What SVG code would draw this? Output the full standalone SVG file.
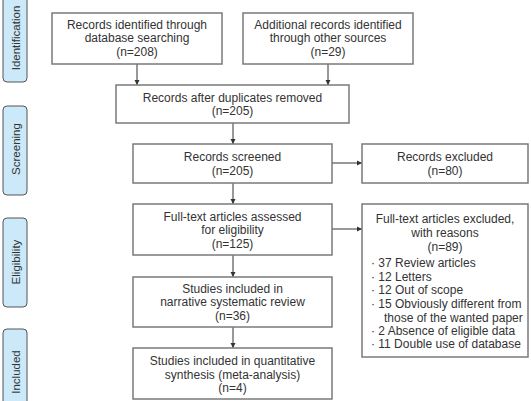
<svg xmlns="http://www.w3.org/2000/svg" width="531" height="401" viewBox="0 0 531 401">
<defs>
<marker id="ah" markerWidth="6" markerHeight="6" refX="5" refY="3" orient="auto" markerUnits="userSpaceOnUse">
<path d="M0,0.5 L5,3 L0,5.5 Z" fill="#333"/>
</marker>
</defs>
<style>
.box{fill:#fff;stroke:#7a7a7a;stroke-width:1.5}
.side{fill:#cbe9f8;stroke:#555;stroke-width:1}
text{font-family:"Liberation Sans",Arial,sans-serif;font-size:12px;fill:#333}
.c{text-anchor:middle}
.sl{font-size:11.5px;text-anchor:middle}
.con{stroke:#333;stroke-width:1;fill:none;marker-end:url(#ah)}
</style>
<rect width="531" height="401" fill="#fff"/>
<g id="side-identification"><rect class="side" x="3" y="-8" width="24" height="90" rx="4"/><text class="sl" transform="translate(19.5,38) rotate(-90)">Identification</text></g>
<g id="side-screening"><rect class="side" x="3" y="106" width="24" height="89" rx="4"/><text class="sl" transform="translate(19.5,149) rotate(-90)">Screening</text></g>
<g id="side-eligibility"><rect class="side" x="3" y="218" width="24" height="89" rx="4"/><text class="sl" transform="translate(19.5,262) rotate(-90)">Eligibility</text></g>
<g id="side-included"><rect class="side" x="3" y="329" width="24" height="89" rx="4"/><text class="sl" transform="translate(19.5,372) rotate(-90)">Included</text></g>

<g id="connectors">
<line class="con" x1="137" y1="64" x2="137" y2="85"/>
<line class="con" x1="328" y1="64" x2="328" y2="85"/>
<line class="con" x1="233" y1="123" x2="233" y2="144"/>
<line class="con" x1="332" y1="163" x2="362" y2="163"/>
<line class="con" x1="233" y1="183" x2="233" y2="204"/>
<line class="con" x1="332" y1="229" x2="362" y2="229"/>
<line class="con" x1="233" y1="255" x2="233" y2="277"/>
<line class="con" x1="233" y1="327" x2="233" y2="348"/>
</g>

<g id="n1"><rect class="box" x="52" y="13" width="170" height="51"/>
<text class="c" x="137" y="28.5">Records identified through</text>
<text class="c" x="137" y="42">database searching</text>
<text class="c" x="137" y="56">(n=208)</text></g>
<g id="n2"><rect class="box" x="243" y="13" width="170" height="51"/>
<text class="c" x="328" y="28.5">Additional records identified</text>
<text class="c" x="328" y="42">through other sources</text>
<text class="c" x="328" y="56">(n=29)</text></g>
<g id="n3"><rect class="box" x="116" y="85" width="233" height="38"/>
<text class="c" x="232.5" y="101.5">Records after duplicates removed</text>
<text class="c" x="232.5" y="115">(n=205)</text></g>
<g id="n4"><rect class="box" x="133" y="144" width="199" height="39"/>
<text class="c" x="232.5" y="160.5">Records screened</text>
<text class="c" x="232.5" y="174.5">(n=205)</text></g>
<g id="n5"><rect class="box" x="362" y="144" width="166" height="39"/>
<text class="c" x="445" y="160.5">Records excluded</text>
<text class="c" x="445" y="174.5">(n=80)</text></g>
<g id="n6"><rect class="box" x="133" y="204" width="199" height="51"/>
<text class="c" x="232.5" y="220.5">Full-text articles assessed</text>
<text class="c" x="232.5" y="234">for eligibility</text>
<text class="c" x="232.5" y="247.5">(n=125)</text></g>
<g id="n7"><rect class="box" x="362" y="204" width="166" height="153"/>
<text class="c" x="445" y="222.5">Full-text articles excluded,</text>
<text class="c" x="445" y="236.5">with reasons</text>
<text class="c" x="445" y="250.5">(n=89)</text>
<text x="371" y="266.5">· 37 Review articles</text>
<text x="371" y="280.5">· 12 Letters</text>
<text x="371" y="293.5">· 12 Out of scope</text>
<text x="371" y="307.5">· 15 Obviously different from</text>
<text x="384" y="321.5">those of the wanted paper</text>
<text x="371" y="334.5">· 2 Absence of eligible data</text>
<text x="371" y="347.5">· 11 Double use of database</text></g>
<g id="n8"><rect class="box" x="133" y="277" width="199" height="50"/>
<text class="c" x="232.5" y="292.5">Studies included in</text>
<text class="c" x="232.5" y="306">narrative systematic review</text>
<text class="c" x="232.5" y="319.5">(n=36)</text></g>
<g id="n9"><rect class="box" x="133" y="348" width="199" height="51"/>
<text class="c" x="232.5" y="364.5">Studies included in quantitative</text>
<text class="c" x="232.5" y="378.5">synthesis (meta-analysis)</text>
<text class="c" x="232.5" y="392">(n=4)</text></g>
</svg>
